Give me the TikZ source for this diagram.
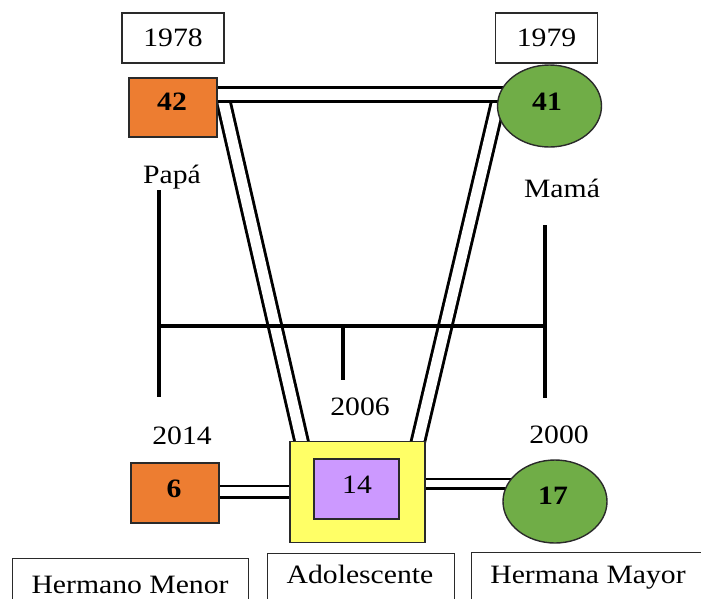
\documentclass[tikz,border=0pt]{standalone}
\usepackage{fontspec}
\setmainfont{Liberation Serif}[FakeStretch=1.12]
\usetikzlibrary{shapes.geometric,backgrounds,calc}

\definecolor{papaorange}{HTML}{ED7D31}
\definecolor{mamagreen}{HTML}{70AD47}
\definecolor{teenyellow}{HTML}{FFFF66}
\definecolor{teenviolet}{HTML}{CC99FF}
\definecolor{framegray}{HTML}{2A2A2A}

\newcommand{\diagramfont}{\fontsize{26.5}{30}\selectfont}

\tikzset{
  textbox/.style={draw=framegray, line width=1.4pt, fill=white, inner sep=0},
  yearbox/.style={textbox, minimum width=102, minimum height=50},
  male/.style={draw=framegray, line width=1.4pt, fill=papaorange, inner sep=0,
               minimum width=88, minimum height=59},
  female/.style={ellipse, draw=framegray, line width=1.4pt, fill=mamagreen, inner sep=0,
                 minimum width=104, minimum height=82},
  lbl/.style={inner sep=0, anchor=base},
  num/.style={lbl, font=\diagramfont\bfseries},
  bond/.style={draw=black, line width=2.9pt, double=white, double distance=#1},
  bond/.default=10.5pt,
  genline/.style={draw=black, line width=3.1pt},
}

\begin{document}
\begin{tikzpicture}[x=1pt, y=-1pt, font=\diagramfont]
  \useasboundingbox (0,0) rectangle (701,598);
  \clip (0,0) rectangle (701,598);

  % year boxes above the parents
  \node[yearbox] (y1978) at (173,38) {1978};
  \node[yearbox] (y1979) at (546.5,38) {1979};

  % parents
  \node[male] (papa) at (173,107.5) {};
  \node[num] (papanum) at (172,110) {42};
  \node[female] (mama) at (549.5,106) {};
  \node[num] (mamanum) at (547,110) {41};
  \node[lbl] (papalbl) at (172,183) {Papá};
  \node[lbl] (mamalbl) at (562,197) {Mamá};

  % birth years of the children
  \node[lbl] (b2006) at (360,415) {2006};
  \node[lbl] (b2014) at (182,444) {2014};
  \node[lbl] (b2000) at (559,443) {2000};

  % children
  \node[male, minimum height=60] (menor) at (175,493) {};
  \node[num] (menornum) at (174,497) {6};
  \node[draw=framegray, line width=1.4pt, fill=teenyellow, inner sep=0,
        minimum width=135, minimum height=101] (teen) at (357.5,492) {};
  \node[draw=framegray, line width=1.4pt, fill=teenviolet, inner sep=0,
        minimum width=85, minimum height=60] (teencore) at (356.5,489) {};
  \node[lbl] (teennum) at (357,493) {14};
  \node[female, minimum height=83] (mayor) at (555,501.5) {};
  \node[num] (mayornum) at (553,504) {17};

  % name boxes along the bottom edge
  \node[textbox, anchor=north west, minimum width=236, minimum height=60] (menorbox) at (12,558) {};
  \node[lbl] (menortxt) at (130,593) {Hermano Menor};
  \node[textbox, anchor=north west, minimum width=187, minimum height=60] (teenbox) at (267,553) {};
  \node[lbl] (teentxt) at (360,583) {Adolescente};
  \node[textbox, anchor=north west, minimum width=250, minimum height=60] (mayorbox) at (471,552) {};
  \node[lbl] (mayortxt) at (588,583) {Hermana Mayor};

  \begin{scope}[on background layer]
    % close relationships drawn as double lines
    \draw[bond] ($(papa.east)+(4.7,-10.5)$) -- ($(teen.north west)+(13,4)$);
    \draw[bond] ($(mama.west)+(2.5,-9)$) -- ($(teen.north east)+(-8.5,4)$);
    \draw[bond=11.5pt] ($(papa.east)+(-5,-13)$) -- ($(mama.west)+(8,-11.5)$);
    \draw[bond=8.5pt] ($(menor.east)+(-5,-1.3)$) -- ($(teen.west)+(5,-0.3)$);
    \draw[bond=6.5pt] ($(teen.east)+(-5,-8.3)$) -- ($(mayor.west)+(10,-17.8)$);

    % family tree lines
    \coordinate (ptop) at (159,190);
    \coordinate (pbot) at (159,397);
    \coordinate (mtop) at (545,225);
    \coordinate (mbot) at (545,398);
    \coordinate (ctop) at (343,326);
    \coordinate (cbot) at (343,380);
    \draw[genline] (ptop) -- (pbot);
    \draw[genline] (mtop) -- (mbot);
    \draw[genline] (ptop |- ctop) -- (mtop |- ctop);
    \draw[genline] (ctop) -- (cbot);
  \end{scope}
\end{tikzpicture}
\end{document}
